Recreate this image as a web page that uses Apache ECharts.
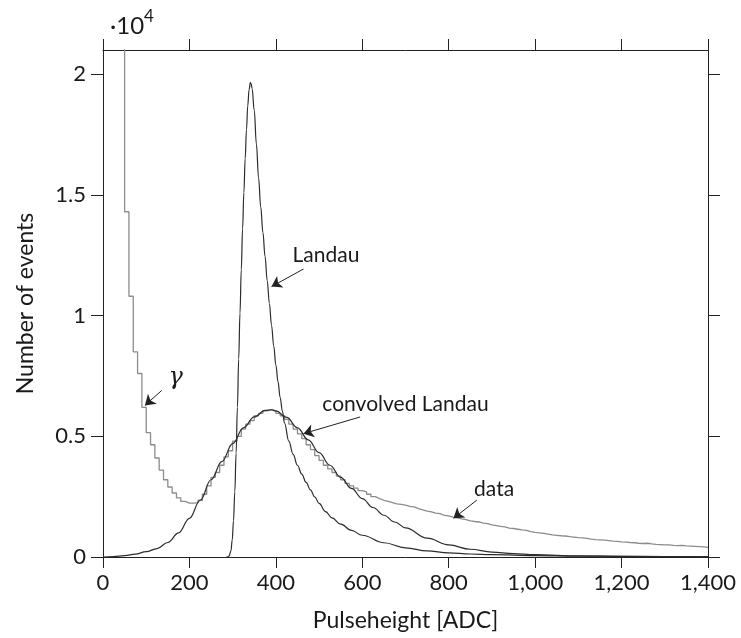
<!DOCTYPE html>
<html>
<head>
<meta charset="utf-8">
<title>Pulseheight spectrum</title>
<script src="https://cdn.jsdelivr.net/npm/echarts@6/dist/echarts.min.js"></script>
<style>
html, body { margin: 0; padding: 0; background: #fff; }
#main { width: 741px; height: 638px; }
</style>
</head>
<body>
<div id="main"></div>
<script>
// measured histogram, 10 ADC bins; first bin (40-50) runs off the top of the scale
var binStart = 40;
var binWidth = 10;
var dataCounts = [
  30000, 14300, 10800, 8500, 7600, 6200, 5150, 4650, 4100, 3600,
  3200, 2900, 2650, 2450, 2300, 2230, 2230, 2250, 2350, 2600,
  2950, 3300, 3500, 3800, 4150, 4400, 4800, 5000, 5300, 5500,
  5650, 5850, 5950, 6050, 6100, 6050, 5950, 5850, 5700, 5500,
  5300, 5100, 4900, 4650, 4450, 4200, 4000, 3800, 3650, 3500,
  3350, 3200, 3050, 2950, 2850, 2750, 2700, 2600, 2500, 2420,
  2350, 2300, 2250, 2200, 2180, 2150, 2100, 2080, 2000, 1950,
  1900, 1870, 1820, 1800, 1720, 1700, 1650, 1620, 1580, 1550,
  1500, 1470, 1450, 1400, 1380, 1330, 1300, 1270, 1250, 1200,
  1180, 1150, 1120, 1100, 1050, 1020, 1000, 980, 950, 920,
  900, 880, 870, 840, 820, 800, 790, 770, 740, 720,
  710, 700, 680, 660, 650, 630, 620, 600, 590, 570,
  560, 570, 540, 520, 510, 500, 500, 480, 470, 480,
  460, 450, 440, 430, 420, 400
];

var landauX = [285, 288, 292, 296, 299, 302, 305, 308, 311, 314, 317, 320, 323, 326, 329, 332, 335, 338, 341, 343,
  345, 350, 355, 360, 365, 370, 375, 380, 385, 390, 395, 400, 405, 410, 415, 420, 430, 440, 450, 460,
  470, 480, 490, 500, 515, 530, 550, 575, 600, 650, 700, 750, 800, 850, 900, 1000, 1100, 1200, 1300, 1400];
var landauY = [0, 0, 50, 250, 700, 1500, 2700, 4300, 6200, 8200, 10100, 11900, 13600, 15100, 16500, 17700, 18700, 19350, 19650, 19600,
  19400, 18500, 17100, 15700, 14500, 13450, 12450, 11450, 10500, 9600, 8750, 7950, 7250, 6600, 6050, 5550, 4800, 4250, 3800, 3430,
  3090, 2780, 2490, 2220, 1880, 1620, 1360, 1100, 900, 590, 380, 250, 170, 125, 95, 60, 40, 28, 20, 15];

var convX = [0, 25, 50, 75, 100, 125, 150, 175, 200, 225, 250, 275, 300, 325, 350, 375, 390, 400, 425, 450,
  475, 500, 525, 550, 575, 600, 625, 650, 675, 700, 750, 800, 850, 900, 950, 1000, 1100, 1200, 1300, 1400];
var convY = [0, 20, 60, 120, 220, 350, 600, 1000, 1600, 2350, 3200, 3950, 4700, 5350, 5800, 6070, 6100, 6050, 5780, 5350,
  4850, 4320, 3800, 3300, 2840, 2420, 2050, 1730, 1450, 1210, 780, 500, 320, 205, 140, 95, 45, 22, 11, 5];

var yTicks = [0, 5000, 10000, 15000, 20000];

// annotation labels and arrows, in data coordinates
var noteText = ['Landau', 'γ', 'convolved Landau', 'data'];
var notePos = [[516, 12480], [168, 7440], [700, 6340], [905, 2810]];
var arrowFrom = [[464, 11930], [136, 6900], [595, 5800], [865, 2355]];
var arrowTo = [[390, 11200], [97, 6280], [464, 5110], [811, 1600]];

function pairs(xs, ys) {
  return xs.map(function (x, i) { return [x, ys[i]]; });
}

var histPts = dataCounts.map(function (v, i) { return [binStart + i * binWidth, v]; });
histPts.push([binStart + dataCounts.length * binWidth, dataCounts[dataCounts.length - 1]]);

var font = 'Lato';
var ink = '#1a1a1a';
var axisCol = '#222';

function frameAxis(extra) {
  var base = {
    type: 'value',
    axisLine: { show: true, onZero: false, lineStyle: { color: axisCol, width: 1 } },
    axisTick: { show: true, length: 11, lineStyle: { color: axisCol } },
    splitLine: { show: false }
  };
  return Object.assign(base, extra);
}

var myChart = echarts.init(document.getElementById('main'));
var option = {
  animation: false,
  backgroundColor: '#fff',
  textStyle: { fontFamily: font, color: ink },
  grid: { left: 103, right: 33, top: 50, bottom: 81 },
  graphic: [
    { type: 'text', left: 110, top: 14, style: { text: '·10', font: '24px Lato', fill: ink } },
    { type: 'text', left: 144, top: 8, style: { text: '4', font: '17px Lato', fill: ink } }
  ],
  xAxis: [
    frameAxis({
      position: 'bottom', min: 0, max: 1400, interval: 200,
      name: 'Pulseheight [ADC]', nameLocation: 'middle', nameGap: 52,
      nameTextStyle: { fontSize: 23, color: ink, fontFamily: font },
      axisLabel: {
        fontSize: 22, color: ink, margin: 15, fontFamily: font,
        formatter: function (v) { return v.toLocaleString('en-US'); }
      }
    }),
    frameAxis({
      position: 'top', min: 0, max: 1400, interval: 200,
      axisLabel: { show: false }
    })
  ],
  yAxis: [
    frameAxis({
      position: 'left', min: 0, max: 21000, interval: 5000,
      name: 'Number of events', nameLocation: 'middle', nameGap: 66,
      nameTextStyle: { fontSize: 23, color: ink, fontFamily: font },
      axisTick: { show: true, length: 12, customValues: yTicks, lineStyle: { color: axisCol } },
      axisLabel: {
        fontSize: 22, color: ink, margin: 17, fontFamily: font, customValues: yTicks,
        formatter: function (v) { return v > 20000 ? '' : String(v / 10000); }
      }
    }),
    frameAxis({
      position: 'right', min: 0, max: 21000, interval: 5000,
      axisTick: { show: true, length: 12, customValues: yTicks, lineStyle: { color: axisCol } },
      axisLabel: { show: false }
    })
  ],
  series: [
    {
      name: 'data', type: 'line', step: 'end', data: histPts,
      showSymbol: false, clip: true,
      lineStyle: { color: '#8c8c8c', width: 1.3 }
    },
    {
      name: 'convolved Landau', type: 'line', data: pairs(convX, convY),
      showSymbol: false, smooth: 0.4, smoothMonotone: 'x', clip: true,
      lineStyle: { color: '#2c2c2c', width: 1.2 }
    },
    {
      name: 'Landau', type: 'line', data: pairs(landauX, landauY),
      showSymbol: false, smooth: 0.4, smoothMonotone: 'x', clip: true,
      lineStyle: { color: '#2c2c2c', width: 1.2 },
      markLine: {
        silent: true, animation: false,
        symbol: ['none', 'arrow'], symbolSize: 10,
        lineStyle: { color: '#222', width: 1, type: 'solid' },
        itemStyle: { color: '#222' },
        label: { show: false },
        emphasis: { disabled: true },
        data: arrowFrom.map(function (p, i) { return [{ coord: p }, { coord: arrowTo[i] }]; })
      }
    },
    {
      name: 'notes', type: 'scatter', symbolSize: 1, silent: true,
      itemStyle: { opacity: 0 },
      data: notePos.map(function (p, i) {
        return {
          value: p,
          label: {
            show: true, position: 'inside', formatter: noteText[i],
            fontSize: i === 1 ? 24 : 21, color: ink, opacity: 1,
            fontFamily: i === 1 ? 'DejaVu Serif' : font,
            fontStyle: i === 1 ? 'italic' : 'normal'
          }
        };
      })
    }
  ]
};
myChart.setOption(option);
</script>
</body>
</html>
